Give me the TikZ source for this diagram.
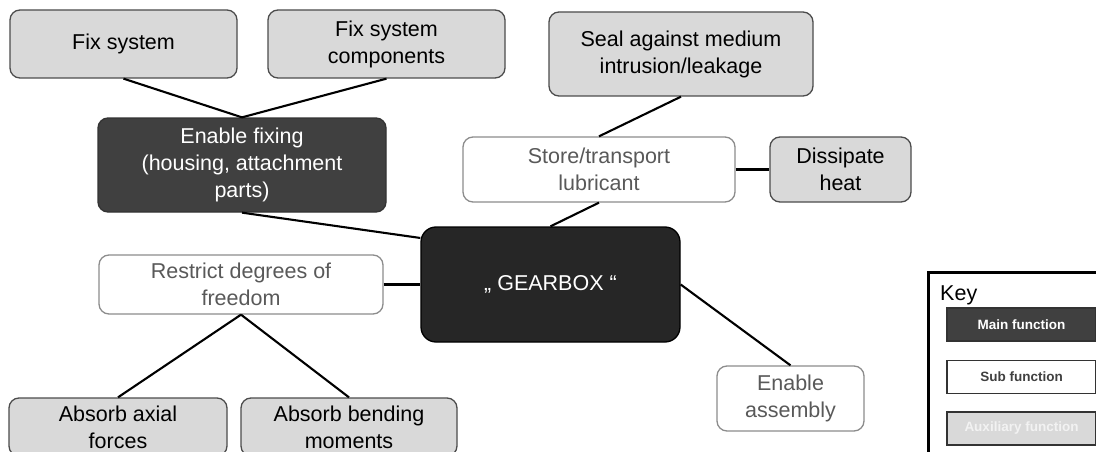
\documentclass[tikz,border=0pt]{standalone}
\usepackage{fontspec}
\setmainfont{Liberation Sans}
\usetikzlibrary{calc}
\definecolor{auxfill}{HTML}{D9D9D9}
\definecolor{mainfill}{HTML}{404040}
\definecolor{corefill}{HTML}{262626}
\definecolor{subtext}{HTML}{595959}
\definecolor{subline}{HTML}{8C8C8C}
\tikzset{
  box/.style={rounded corners=10pt, align=center, inner sep=2pt,
    font=\fontsize{21.5}{27}\selectfont, line width=1.3pt},
  auxbox/.style={box, draw=black!70, fill=auxfill, text=black},
  subbox/.style={box, draw=subline, fill=white, text=subtext},
  mainbox/.style={box, draw=black!80, fill=mainfill, text=white},
  corebox/.style={box, rounded corners=15pt, draw=black, fill=corefill, text=white},
  link/.style={line width=2.1pt, black},
  keybar/.style={draw, line width=1.2pt, minimum width=149pt, minimum height=33pt,
    font=\fontsize{13.5}{16}\selectfont\bfseries, inner sep=0pt}
}
\begin{document}
\begin{tikzpicture}[x=1pt, y=-1pt]
\useasboundingbox (0,0) rectangle (1096,452);
\clip (0,0) rectangle (1096,452);
% nodes
\node[auxbox, minimum width=227pt, minimum height=68pt] (fixsys) at (123.5,44) {Fix system};
\node[auxbox, minimum width=237pt, minimum height=68pt] (fixcomp) at (386.5,44) {Fix system\\components};
\node[auxbox, minimum width=264pt, minimum height=84pt] (seal) at (681,54) {Seal against medium\\intrusion/leakage};
\node[mainbox, minimum width=288pt, minimum height=94pt] (enfix) at (242,165) {Enable fixing\\(housing, attachment\\parts)};
\node[subbox, minimum width=272pt, minimum height=65pt] (store) at (599,169.5) {Store/transport\\lubricant};
\node[auxbox, minimum width=141pt, minimum height=65pt] (diss) at (840.5,169.5) {Dissipate\\heat};
\node[corebox, minimum width=259pt, minimum height=115pt] (gear) at (550.5,284.5) {„ GEARBOX “};
\node[subbox, minimum width=284pt, minimum height=59pt] (restr) at (241,284.5) {Restrict degrees of\\freedom};
\node[subbox, minimum width=147pt, minimum height=65pt] (assem) at (790.5,398.5) {Enable\\assembly};
\node[auxbox, minimum width=218pt, minimum height=58pt] (axial) at (118,427) {Absorb axial\\forces};
\node[auxbox, minimum width=216pt, minimum height=58pt] (bend) at (349,427) {Absorb bending\\moments};
% connectors
\draw[link] (fixsys.south) -- (enfix.north);
\draw[link] (fixcomp.south) -- (enfix.north);
\draw[link] (enfix.south) -- ($(gear.north west)!0.1!(gear.south west)$);
\draw[link] (seal.south) -- (store.north);
\draw[link] (store.east) -- (diss.west);
\draw[link] (store.south) -- (gear.north);
\draw[link] (restr.east) -- (gear.west);
\draw[link] (gear.east) -- (assem.north);
\draw[link] (restr.south) -- (axial.north);
\draw[link] (restr.south) -- (bend.north);
% key
\node[draw, line width=3pt, minimum width=200pt, minimum height=200pt, anchor=north west] (keybox) at (927,271) {};
\node[anchor=base west, font=\fontsize{21.5}{27}\selectfont, inner sep=0pt] (keyt) at (940,300) {Key};
\node[keybar, fill=mainfill, draw=black!80, text=white] (kmain) at (1021.5,324.5) {Main function};
\node[keybar, fill=white, draw=black!80, text=black!75] (ksub) at (1021.5,377) {Sub function};
\node[keybar, fill=auxfill, draw=black!80, text=white!95!black] (kaux) at (1021.5,428.5) {Auxiliary function};
\end{tikzpicture}
\end{document}
